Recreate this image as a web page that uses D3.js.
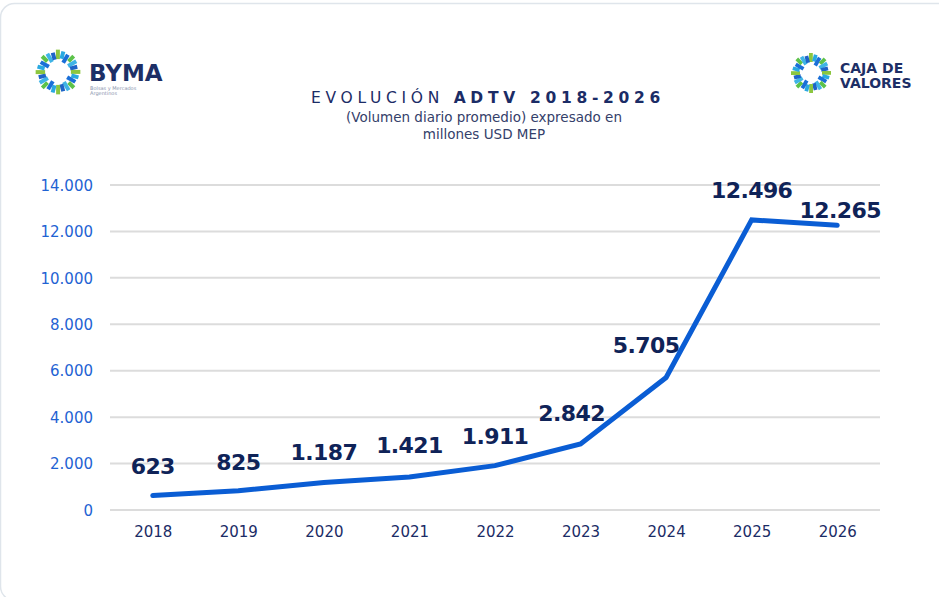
<!DOCTYPE html>
<html><head><meta charset="utf-8">
<script src="https://cdn.jsdelivr.net/npm/d3@7"></script>
<style>
body{margin:0;background:#fff;}
svg{display:block;font-family:"DejaVu Sans",sans-serif;}
</style></head>
<body>
<svg id="c" width="939" height="597"></svg>
<script>
const years = ["2018","2019","2020","2021","2022","2023","2024","2025","2026"];
const adtv = [623, 825, 1187, 1421, 1911, 2842, 5705, 12496, 12265];
const yTicks = [0, 2000, 4000, 6000, 8000, 10000, 12000, 14000];
const titleLight = "EVOLUCIÓN";
const titleBold = "ADTV 2018-2026";
const subtitle = ["(Volumen diario promedio) expresado en", "millones USD MEP"];

const svg = d3.select("#c");
const fmt = v => d3.format(",")(v).replace(/,/g, ".");

// card border
svg.append("rect").attr("x",0.5).attr("y",3.5).attr("width",960).attr("height",597)
  .attr("rx",14).attr("fill","#fff").attr("stroke","#dfe5eb").attr("stroke-width",1.5);

const x = d3.scalePoint().domain(years).range([110, 880]).padding(0.5);
const y = d3.scaleLinear().domain([0, 14000]).range([510, 185]);

// gridlines
svg.append("g").selectAll("line").data(yTicks).join("line")
  .attr("x1",110).attr("x2",880).attr("y1",d=>y(d)).attr("y2",d=>y(d))
  .attr("stroke","#dcdcdc").attr("stroke-width",2);

// y axis
const yAxis = svg.append("g").attr("transform","translate(93,0)")
  .call(d3.axisLeft(y).tickValues(yTicks).tickFormat(fmt).tickSize(0).tickPadding(0));
yAxis.select(".domain").remove();
yAxis.selectAll("text").attr("fill","#1f63d3").attr("font-size",15)
  .attr("font-family","'DejaVu Sans',sans-serif").attr("dy","0.35em");

// x axis
const xAxis = svg.append("g").attr("transform","translate(0,523)")
  .call(d3.axisBottom(x).tickSize(0).tickPadding(0));
xAxis.select(".domain").remove();
xAxis.selectAll("text").attr("fill","#1b2c66").attr("font-size",15)
  .attr("font-family","'DejaVu Sans',sans-serif").attr("dy","0.95em");

// line
const data = years.map((yr,i)=>({yr, v: adtv[i]}));
svg.append("path").datum(data)
  .attr("fill","none").attr("stroke","#0a5dd4").attr("stroke-width",5)
  .attr("stroke-linejoin","miter").attr("stroke-linecap","round")
  .attr("d", d3.line().x(d=>x(d.yr)).y(d=>y(d.v)));

// data labels
const dxs = [0,0,0,0,0,-9,-20,0,3];
const dys = [-22,-21,-22,-24,-22,-23,-25,-22,-7];
svg.append("g").selectAll("text").data(data).join("text")
  .attr("x",(d,i)=>x(d.yr)+dxs[i]).attr("y",(d,i)=>y(d.v)+dys[i])
  .attr("text-anchor","middle").attr("font-size",22).attr("font-weight","bold")
  .attr("letter-spacing",-0.6)
  .attr("fill","#0f2358").text(d=>fmt(d.v));

// title
const t = svg.append("text").attr("x",488).attr("y",103).attr("text-anchor","middle")
  .attr("font-size",15.5).attr("fill","#1b2c66").attr("letter-spacing",4.7);
t.append("tspan").attr("font-weight","normal").text(titleLight + " ");
t.append("tspan").attr("font-weight","bold").text(titleBold);
svg.selectAll(".sub").data(subtitle).join("text").attr("class","sub")
  .attr("x",484).attr("y",(d,i)=>122+i*17).attr("text-anchor","middle")
  .attr("font-size",13.5).attr("fill","#34406a").text(d=>d);

// ring logos
function ring(cx, cy, r, s) {
  const g = svg.append("g").attr("transform",`translate(${cx},${cy})`);
  const n = 24;
  const cols = ["#8cc63f","#29a9e1","#1a6fd8","#5cc24a","#3fb4e6","#1e64c8"];
  d3.range(n).forEach(i=>{
    const a = i/n*360;
    g.append("rect").attr("x",-2*s).attr("y",-r-7*s + (i%3)*1.2).attr("width",3.8*s).attr("height",(9 - (i%2)*2)*s)
      .attr("fill",cols[i%cols.length]).attr("transform",`rotate(${a})`);
  });
}
ring(58, 72, 15, 1.05);
svg.append("text").attr("x",89).attr("y",81).attr("font-size",23).attr("font-weight","bold")
  .attr("fill","#1d2f66").text("BYMA");
svg.append("text").attr("x",90).attr("y",90).attr("font-size",5).attr("fill","#8a93ad").text("Bolsas y Mercados");
svg.append("text").attr("x",90).attr("y",95).attr("font-size",5).attr("fill","#8a93ad").text("Argentinos");

ring(811, 73, 13, 1);
svg.append("text").attr("x",840).attr("y",73).attr("font-size",14).attr("font-weight","bold")
  .attr("fill","#1d2f66").text("CAJA DE");
svg.append("text").attr("x",840).attr("y",88).attr("font-size",14).attr("font-weight","bold")
  .attr("fill","#1d2f66").text("VALORES");
</script>
</body></html>
